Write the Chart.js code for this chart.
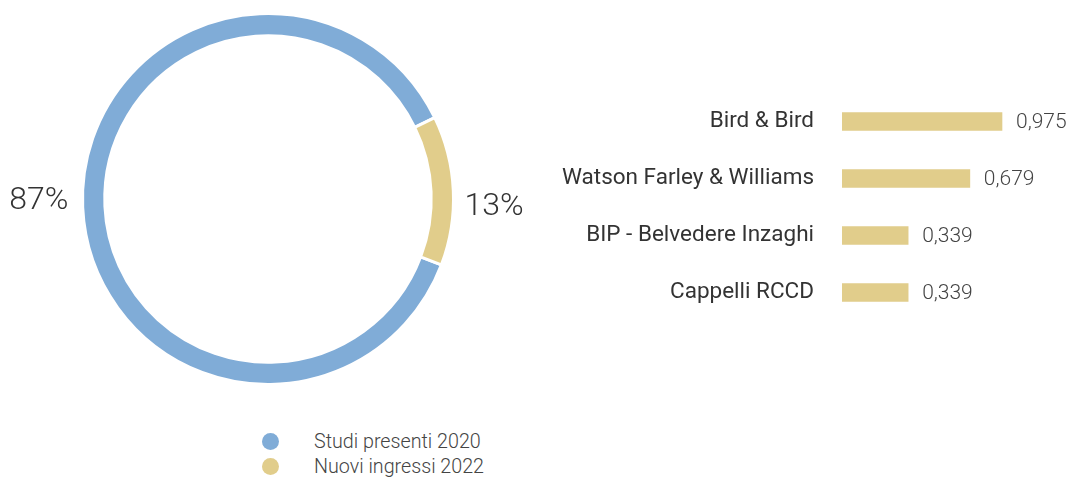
<!DOCTYPE html>
<html>
<head>
<meta charset="utf-8">
<script src="https://cdn.jsdelivr.net/npm/chart.js@4.4.1/dist/chart.umd.min.js"></script>
<style>
    html, body { margin: 0; padding: 0; background: #fff; }
    body { width: 1071px; height: 480px; position: relative; overflow: hidden; font-family: Roboto, sans-serif; }
    #pie { position: absolute; left: 0; top: 0; }
    #bars { position: absolute; left: 550px; top: 93px; }
    #legend { position: absolute; left: 262px; top: 429px; }
    .item { display: flex; align-items: center; height: 25px; font-size: 19.7px; font-weight: 300; color: #444; }
    .dot { width: 17px; height: 17px; border-radius: 50%; margin-right: 35px; }
</style>
</head>
<body>
<canvas id="pie" width="536" height="398"></canvas>
<canvas id="bars" width="521" height="228"></canvas>
<div id="legend"></div>
<script>
// quota studi
const pieLabels = ['Studi presenti 2020', 'Nuovi ingressi 2022'];
const pieValues = [87, 13];
const pieColors = ['#80acd7', '#e1cd8b'];

// nuovi ingressi
const firms = ['Bird & Bird', 'Watson Farley & Williams', 'BIP - Belvedere Inzaghi', 'Cappelli RCCD'];
const firmValues = [0.975, 0.679, 0.339, 0.339];
const barColor = '#e1cd8b';

Chart.defaults.font.family = 'Roboto';
Chart.defaults.color = '#333';

// percentuali ai lati dell'anello
const pctLabels = {
    id: 'pctLabels',
    afterDatasetsDraw(chart) {
        const ctx = chart.ctx;
        const arcs = chart.getDatasetMeta(0).data;
        ctx.save();
        ctx.font = '300 32px Roboto';
        ctx.fillStyle = '#333';
        ctx.textBaseline = 'middle';
        arcs.forEach((arc, i) => {
            const mid = (arc.startAngle + arc.endAngle) / 2;
            const right = Math.cos(mid) > 0;
            ctx.textAlign = right ? 'left' : 'right';
            const x = right ? arc.x + arc.outerRadius + 11 : arc.x - arc.outerRadius - 14;
            const y = arc.y + (right ? 8 : 2);
            ctx.fillText(pieValues[i] + '%', x, y);
        });
        ctx.restore();
    }
};

// valori in fondo alle barre
const barValues = {
    id: 'barValues',
    afterDatasetsDraw(chart) {
        const ctx = chart.ctx;
        ctx.save();
        ctx.font = '300 21px Roboto';
        ctx.fillStyle = '#444';
        ctx.textBaseline = 'middle';
        ctx.textAlign = 'left';
        chart.getDatasetMeta(0).data.forEach((bar, i) => {
            const txt = firmValues[i].toLocaleString('it-IT', { minimumFractionDigits: 3 });
            ctx.fillText(txt, bar.x + 14, bar.y + 1);
        });
        ctx.restore();
    }
};

const pie = new Chart(document.getElementById('pie'), {
    type: 'doughnut',
    data: {
        labels: pieLabels,
        datasets: [{
            data: pieValues,
            backgroundColor: pieColors,
            borderColor: '#fff',
            borderWidth: 3
        }]
    },
    options: {
        responsive: false,
        animation: false,
        cutout: '88%',
        rotation: 110.8,
        layout: { padding: 12 },
        plugins: { legend: { display: false }, tooltip: { enabled: false } }
    },
    plugins: [pctLabels]
});

const bars = new Chart(document.getElementById('bars'), {
    type: 'bar',
    data: {
        labels: firms,
        datasets: [{ data: firmValues, backgroundColor: barColor, barThickness: 18 }]
    },
    options: {
        responsive: false,
        animation: false,
        indexAxis: 'y',
        layout: { padding: 0 },
        scales: {
            x: { type: 'logarithmic', min: 0.161, max: 2.12, display: false },
            y: {
                grid: { display: false, drawTicks: false },
                border: { display: false },
                ticks: { padding: 28, color: '#333', font: { size: 22.5 } },
                afterFit: s => {
                    s.width = 292;
                    s.paddingTop = 0;
                    s.paddingBottom = 0;
                }
            }
        },
        plugins: { legend: { display: false }, tooltip: { enabled: false } }
    },
    plugins: [barValues]
});

// legenda html
document.getElementById('legend').innerHTML = pieLabels.map((l, i) =>
    `<div class="item"><span class="dot" style="background:${pieColors[i]}"></span>${l}</div>`
).join('');
</script>
</body>
</html>
